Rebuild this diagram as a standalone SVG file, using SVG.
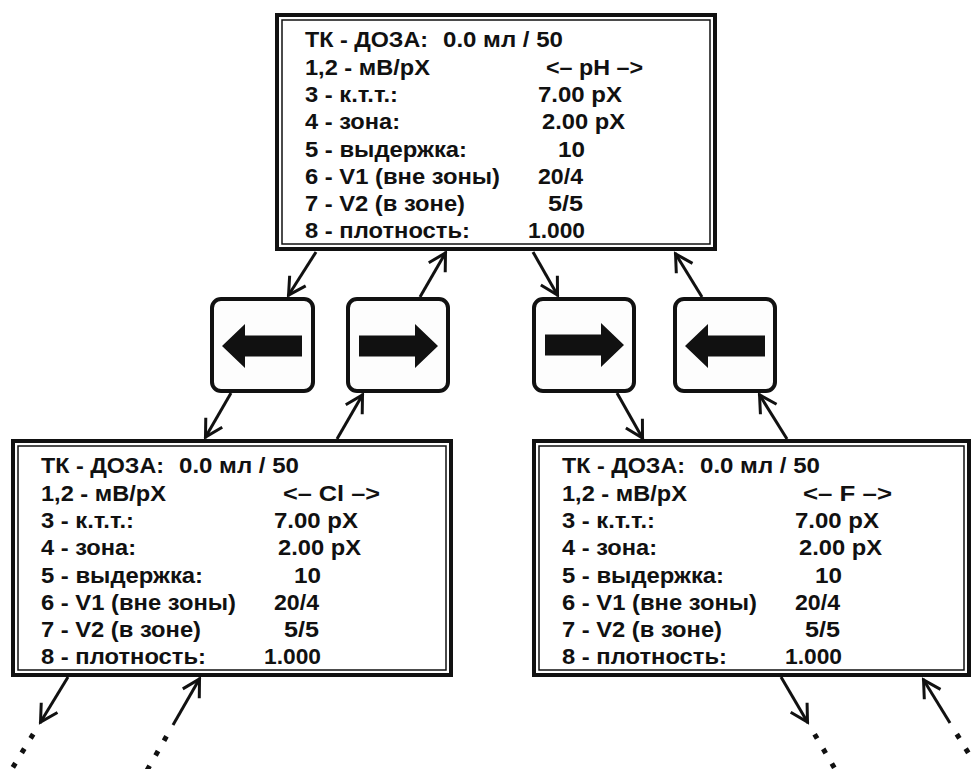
<svg xmlns="http://www.w3.org/2000/svg" width="971" height="769" viewBox="0 0 971 769">
<style>
.bg{fill:#fff}
.outer{fill:#fff;stroke:#111;stroke-width:4}
.inner{fill:none;stroke:#111;stroke-width:1.5}
.btn{fill:#fdfdfd;stroke:#111;stroke-width:4}
.arr{fill:#111;stroke:none}
.t{font-family:"Liberation Sans",Arial,sans-serif;font-weight:bold;font-size:22px;fill:#111}
.con{fill:none;stroke:#111;stroke-width:3;marker-end:url(#ah)}
.dots{fill:none;stroke:#111;stroke-width:5;stroke-dasharray:5 12}
</style>
<defs>
<marker id="ah" markerUnits="userSpaceOnUse" markerWidth="30" markerHeight="30" viewBox="-22 -15 30 30" refX="1" refY="0" orient="auto" overflow="visible">
<path d="M-17,-9.5 L0,0 L-17,9.5" fill="none" stroke="#111" stroke-width="3"/>
</marker>
</defs>
<rect class="bg" x="0" y="0" width="971" height="769"/>

<g id="box-ph" transform="translate(277,15)">
<rect class="outer" x="0" y="0" width="438" height="234"/>
<rect class="inner" x="5" y="5" width="428" height="224"/>
<text class="t" x="28" y="32.3" textLength="123" lengthAdjust="spacingAndGlyphs">ТК - ДОЗА:</text>
<text class="t" x="166" y="32.3" textLength="120" lengthAdjust="spacingAndGlyphs">0.0 мл / 50</text>
<text class="t" x="28" y="59.6" textLength="125" lengthAdjust="spacingAndGlyphs">1,2 - мВ/рХ</text>
<text class="t" x="269" y="59.6" textLength="97" lengthAdjust="spacingAndGlyphs">&lt;– pH –&gt;</text>
<text class="t" x="28" y="86.9" textLength="93" lengthAdjust="spacingAndGlyphs">3 - к.т.т.:</text>
<text class="t" x="261" y="86.9" textLength="84" lengthAdjust="spacingAndGlyphs">7.00 pX</text>
<text class="t" x="28" y="114.2" textLength="95" lengthAdjust="spacingAndGlyphs">4 - зона:</text>
<text class="t" x="265" y="114.2" textLength="83" lengthAdjust="spacingAndGlyphs">2.00 pX</text>
<text class="t" x="28" y="141.5" textLength="162" lengthAdjust="spacingAndGlyphs">5 - выдержка:</text>
<text class="t" x="281" y="141.5" textLength="27" lengthAdjust="spacingAndGlyphs">10</text>
<text class="t" x="28" y="168.8" textLength="195" lengthAdjust="spacingAndGlyphs">6 - V1 (вне зоны)</text>
<text class="t" x="261" y="168.8" textLength="45" lengthAdjust="spacingAndGlyphs">20/4</text>
<text class="t" x="28" y="196.1" textLength="160" lengthAdjust="spacingAndGlyphs">7 - V2 (в зоне)</text>
<text class="t" x="271" y="196.1" textLength="35" lengthAdjust="spacingAndGlyphs">5/5</text>
<text class="t" x="28" y="223.4" textLength="165" lengthAdjust="spacingAndGlyphs">8 - плотность:</text>
<text class="t" x="251" y="223.4" textLength="57" lengthAdjust="spacingAndGlyphs">1.000</text>
</g>

<g id="box-cl" transform="translate(13,441)">
<rect class="outer" x="0" y="0" width="438" height="234"/>
<rect class="inner" x="5" y="5" width="428" height="224"/>
<text class="t" x="28" y="32.3" textLength="123" lengthAdjust="spacingAndGlyphs">ТК - ДОЗА:</text>
<text class="t" x="166" y="32.3" textLength="120" lengthAdjust="spacingAndGlyphs">0.0 мл / 50</text>
<text class="t" x="28" y="59.6" textLength="125" lengthAdjust="spacingAndGlyphs">1,2 - мВ/рХ</text>
<text class="t" x="270" y="59.6" textLength="97" lengthAdjust="spacingAndGlyphs">&lt;– Cl  –&gt;</text>
<text class="t" x="28" y="86.9" textLength="93" lengthAdjust="spacingAndGlyphs">3 - к.т.т.:</text>
<text class="t" x="261" y="86.9" textLength="84" lengthAdjust="spacingAndGlyphs">7.00 pX</text>
<text class="t" x="28" y="114.2" textLength="95" lengthAdjust="spacingAndGlyphs">4 - зона:</text>
<text class="t" x="265" y="114.2" textLength="83" lengthAdjust="spacingAndGlyphs">2.00 pX</text>
<text class="t" x="28" y="141.5" textLength="162" lengthAdjust="spacingAndGlyphs">5 - выдержка:</text>
<text class="t" x="281" y="141.5" textLength="27" lengthAdjust="spacingAndGlyphs">10</text>
<text class="t" x="28" y="168.8" textLength="195" lengthAdjust="spacingAndGlyphs">6 - V1 (вне зоны)</text>
<text class="t" x="261" y="168.8" textLength="45" lengthAdjust="spacingAndGlyphs">20/4</text>
<text class="t" x="28" y="196.1" textLength="160" lengthAdjust="spacingAndGlyphs">7 - V2 (в зоне)</text>
<text class="t" x="271" y="196.1" textLength="35" lengthAdjust="spacingAndGlyphs">5/5</text>
<text class="t" x="28" y="223.4" textLength="165" lengthAdjust="spacingAndGlyphs">8 - плотность:</text>
<text class="t" x="251" y="223.4" textLength="57" lengthAdjust="spacingAndGlyphs">1.000</text>
</g>

<g id="box-f" transform="translate(534,441)">
<rect class="outer" x="0" y="0" width="435" height="234"/>
<rect class="inner" x="5" y="5" width="425" height="224"/>
<text class="t" x="28" y="32.3" textLength="123" lengthAdjust="spacingAndGlyphs">ТК - ДОЗА:</text>
<text class="t" x="166" y="32.3" textLength="120" lengthAdjust="spacingAndGlyphs">0.0 мл / 50</text>
<text class="t" x="28" y="59.6" textLength="125" lengthAdjust="spacingAndGlyphs">1,2 - мВ/рХ</text>
<text class="t" x="269" y="59.6" textLength="89" lengthAdjust="spacingAndGlyphs">&lt;– F  –&gt;</text>
<text class="t" x="28" y="86.9" textLength="93" lengthAdjust="spacingAndGlyphs">3 - к.т.т.:</text>
<text class="t" x="261" y="86.9" textLength="84" lengthAdjust="spacingAndGlyphs">7.00 pX</text>
<text class="t" x="28" y="114.2" textLength="95" lengthAdjust="spacingAndGlyphs">4 - зона:</text>
<text class="t" x="265" y="114.2" textLength="83" lengthAdjust="spacingAndGlyphs">2.00 pX</text>
<text class="t" x="28" y="141.5" textLength="162" lengthAdjust="spacingAndGlyphs">5 - выдержка:</text>
<text class="t" x="281" y="141.5" textLength="27" lengthAdjust="spacingAndGlyphs">10</text>
<text class="t" x="28" y="168.8" textLength="195" lengthAdjust="spacingAndGlyphs">6 - V1 (вне зоны)</text>
<text class="t" x="261" y="168.8" textLength="45" lengthAdjust="spacingAndGlyphs">20/4</text>
<text class="t" x="28" y="196.1" textLength="160" lengthAdjust="spacingAndGlyphs">7 - V2 (в зоне)</text>
<text class="t" x="271" y="196.1" textLength="35" lengthAdjust="spacingAndGlyphs">5/5</text>
<text class="t" x="28" y="223.4" textLength="165" lengthAdjust="spacingAndGlyphs">8 - плотность:</text>
<text class="t" x="251" y="223.4" textLength="57" lengthAdjust="spacingAndGlyphs">1.000</text>
</g>

<g id="btn-left-1">
<rect class="btn" x="212" y="299" width="101" height="92" rx="9"/>
<polygon class="arr" points="222,346 245,324 245,335.5 302,335.5 302,356.5 245,356.5 245,368"/>
</g>
<g id="btn-right-1">
<rect class="btn" x="348" y="299" width="100" height="92" rx="9"/>
<polygon class="arr" points="438,346 415,324 415,335.5 359,335.5 359,356.5 415,356.5 415,368"/>
</g>
<g id="btn-right-2">
<rect class="btn" x="534" y="299" width="100" height="92" rx="9"/>
<polygon class="arr" points="624,345 601,323 601,334.5 545,334.5 545,355.5 601,355.5 601,367"/>
</g>
<g id="btn-left-2">
<rect class="btn" x="675" y="299" width="100" height="92" rx="9"/>
<polygon class="arr" points="685,346 708,324 708,335.5 765,335.5 765,356.5 708,356.5 708,368"/>
</g>

<g id="connectors">
<line class="con" x1="316" y1="252" x2="288" y2="296"/>
<line class="con" x1="420" y1="297" x2="446" y2="252"/>
<line class="con" x1="231" y1="393" x2="205" y2="438"/>
<line class="con" x1="337" y1="439" x2="363" y2="394"/>
<line class="con" x1="533" y1="252" x2="558" y2="296"/>
<line class="con" x1="702" y1="297" x2="675" y2="253"/>
<line class="con" x1="617" y1="393" x2="643" y2="439"/>
<line class="con" x1="787" y1="439" x2="759" y2="394"/>
<line class="con" x1="68" y1="677" x2="40" y2="723"/>
<line class="con" x1="173" y1="725" x2="200" y2="678"/>
<line class="con" x1="781" y1="677" x2="808" y2="723"/>
<line class="con" x1="950" y1="723" x2="923" y2="679"/>
<line class="dots" x1="33.2" y1="734.1" x2="-1.6" y2="791"/>
<line class="dots" x1="166.5" y1="736.3" x2="133.2" y2="794.4"/>
<line class="dots" x1="814.6" y1="734.2" x2="848.5" y2="792"/>
<line class="dots" x1="956.8" y1="734.1" x2="991.8" y2="791.2"/>
</g>
</svg>
